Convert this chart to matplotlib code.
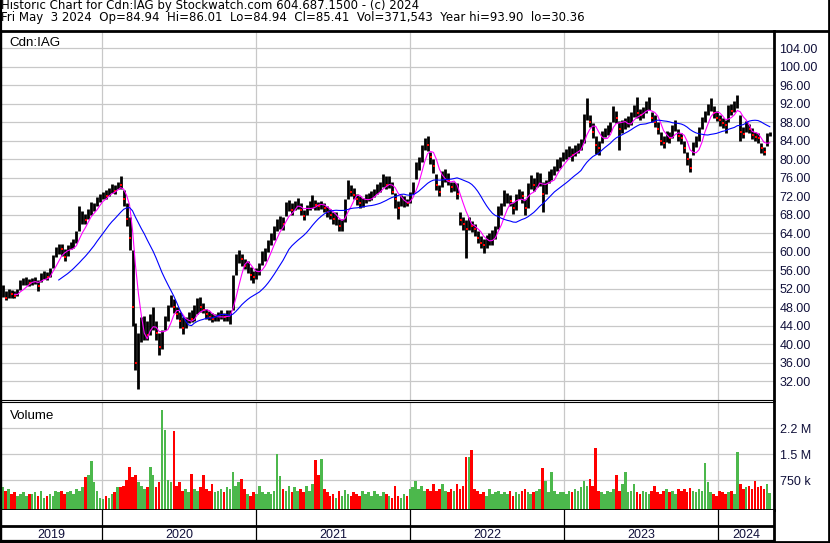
import matplotlib
matplotlib.use("Agg")
import matplotlib.pyplot as plt
import matplotlib.dates as mdates
from matplotlib.lines import Line2D
import numpy as np
import pandas as pd

plt.rcParams['font.family'] = ['Liberation Sans', 'DejaVu Sans']

# ---------------- data (weekly) ----------------
start_week = '2019-05-10'
n_weeks = 261

close = [
    51.5, 50.0, 51.3, 50.8, 50.5, 51.2, 53.0, 53.5, 53.6, 53.3,
    53.6, 53.8, 52.6, 54.8, 55.0, 54.6, 55.6, 58.5, 60.2, 60.8,
    60.5, 58.8, 60.8, 61.5, 62.0, 63.6, 66.0, 67.5, 66.8, 68.2,
    69.5, 69.8, 71.2, 71.6, 72.4, 72.0, 73.0, 73.8, 73.2, 74.8,
    74.5, 71.5, 67.0, 63.0, 48.0, 36.0, 41.0, 43.0, 44.0, 42.0,
    44.5, 45.5, 42.5, 39.5, 41.5, 45.0, 47.5, 49.5, 48.0, 46.5,
    45.0, 43.5, 45.0, 46.0, 45.5, 47.0, 48.5, 48.0, 47.5, 46.5,
    46.0, 45.4, 45.8, 46.0, 46.5, 45.8, 46.0, 46.2, 53.5, 58.0,
    59.0, 58.5, 57.0, 57.0, 55.0, 54.5, 55.5, 56.5, 59.0, 59.5,
    61.5, 63.0, 64.5, 66.0, 66.5, 66.0, 69.5, 70.2, 69.0, 70.2,
    70.5, 69.0, 67.8, 69.5, 70.0, 70.8, 70.2, 70.0, 70.2, 69.5,
    68.5, 68.0, 67.0, 67.4, 65.5, 66.0, 70.0, 74.0, 73.0, 72.2,
    71.5, 70.5, 70.6, 71.8, 72.0, 72.2, 72.8, 73.5, 74.2, 75.5,
    74.5, 75.0, 73.0, 71.5, 69.5, 71.0, 71.0, 70.5, 71.8, 74.0,
    78.0, 79.5, 82.0, 83.5, 83.0, 80.5, 78.5, 74.5, 73.0, 76.5,
    76.5, 75.5, 74.0, 74.0, 72.5, 66.8, 66.0, 65.0, 66.5, 65.5,
    65.0, 63.0, 62.0, 61.5, 62.5, 62.8, 63.5, 64.8, 68.8, 69.0,
    71.5, 71.5, 71.0, 69.5, 71.5, 72.8, 72.0, 69.5, 73.5, 75.0,
    74.5, 75.5, 75.8, 72.5, 74.5, 76.2, 77.0, 77.5, 78.8, 79.5,
    80.5, 81.0, 81.5, 81.0, 82.0, 82.5, 83.2, 88.5, 90.2, 88.0,
    86.0, 83.0, 82.5, 85.0, 85.8, 86.4, 87.0, 90.5, 89.0, 86.5,
    87.0, 87.8, 88.2, 88.8, 90.6, 90.0, 89.5, 90.2, 91.5, 92.0,
    89.0, 88.0, 86.5, 84.0, 83.5, 85.0, 84.5, 86.5, 87.5, 85.0,
    84.5, 82.5, 80.0, 78.2, 82.5, 83.8, 85.8, 88.0, 89.2, 91.0,
    91.8, 90.0, 89.0, 88.5, 87.8, 87.5, 90.8, 90.5, 91.5, 92.5,
    86.0, 85.5, 87.0, 86.5, 85.2, 84.8, 84.5, 82.5, 81.5, 84.0, 85.41,
]

high = [
    52.8, 51.5, 52.0, 51.8, 51.5, 52.0, 53.8, 54.3, 54.5, 54.2,
    54.3, 54.6, 53.8, 55.4, 55.8, 55.6, 56.5, 59.4, 61.0, 61.6,
    61.6, 60.5, 61.5, 62.2, 62.8, 64.5, 70.0, 68.8, 68.2, 69.2,
    70.8, 70.6, 71.8, 72.4, 73.0, 73.4, 73.8, 74.6, 74.4, 75.0,
    76.3, 73.4, 70.5, 67.6, 60.4, 44.5, 42.5, 46.0, 46.2, 45.0,
    46.5, 48.0, 45.0, 42.5, 43.0, 46.2, 48.5, 50.6, 49.8, 48.0,
    47.0, 46.0, 46.0, 47.0, 47.4, 48.4, 50.0, 50.3, 49.0, 47.6,
    47.2, 46.8, 46.6, 47.0, 47.5, 46.8, 47.4, 47.5, 55.0, 59.5,
    60.4, 59.5, 58.5, 58.0, 56.8, 55.8, 56.4, 57.5, 60.2, 60.8,
    62.5, 64.0, 65.5, 67.0, 67.8, 67.5, 70.8, 71.2, 70.6, 71.0,
    71.6, 70.5, 69.0, 70.2, 71.0, 72.2, 71.2, 70.8, 71.0, 70.6,
    69.8, 69.2, 68.6, 68.5, 67.0, 67.0, 71.5, 75.5, 74.5, 73.8,
    72.5, 72.0, 71.6, 72.6, 72.8, 73.2, 73.6, 74.6, 75.2, 76.8,
    76.4, 76.4, 75.0, 72.8, 71.0, 72.2, 72.0, 71.5, 73.0, 75.2,
    79.4, 80.6, 83.0, 84.5, 85.0, 81.6, 80.0, 76.8, 74.5, 77.5,
    78.0, 77.0, 75.0, 75.0, 74.8, 68.5, 67.5, 66.8, 67.6, 66.6,
    66.0, 64.5, 63.5, 62.8, 63.6, 64.0, 64.8, 65.5, 70.0, 70.6,
    73.4, 72.8, 72.2, 70.8, 72.6, 73.6, 73.2, 71.5, 74.8, 76.6,
    76.0, 77.2, 77.0, 75.0, 75.5, 77.5, 78.0, 78.5, 80.0, 80.5,
    81.6, 82.2, 82.8, 82.4, 83.2, 83.6, 84.4, 89.8, 93.2, 89.5,
    87.8, 85.0, 84.0, 86.2, 86.8, 87.5, 88.0, 91.6, 90.5, 88.2,
    88.6, 89.0, 89.4, 90.2, 91.8, 93.4, 90.8, 91.4, 92.6, 93.4,
    90.2, 89.5, 88.0, 86.0, 85.0, 86.2, 85.8, 87.4, 88.6, 86.5,
    85.6, 84.0, 81.5, 80.2, 83.8, 85.0, 87.0, 89.2, 90.4, 92.0,
    93.2, 91.6, 90.4, 89.5, 89.0, 88.6, 91.8, 92.0, 92.6, 93.9,
    89.5, 87.0, 88.2, 87.6, 86.8, 85.8, 85.6, 83.6, 82.6, 85.6, 86.01,
]

low = [
    50.3, 49.6, 50.0, 50.0, 50.0, 50.5, 51.8, 52.8, 52.8, 52.6,
    52.8, 53.0, 51.6, 53.5, 54.2, 54.0, 54.6, 56.5, 58.8, 59.6,
    59.0, 58.0, 59.2, 60.6, 60.8, 62.0, 64.5, 66.0, 66.0, 67.0,
    68.0, 68.8, 69.8, 70.8, 71.4, 71.4, 72.0, 72.8, 72.4, 73.6,
    73.6, 69.8, 65.5, 60.4, 44.0, 34.5, 30.4, 40.5, 41.0, 41.0,
    42.0, 43.0, 41.0, 37.6, 39.0, 43.0, 45.0, 48.0, 46.8, 45.5,
    43.5, 42.3, 43.5, 44.6, 44.8, 45.0, 46.5, 47.0, 46.8, 45.5,
    45.2, 44.8, 45.0, 45.0, 45.5, 45.0, 45.0, 44.4, 47.5, 55.0,
    57.6, 57.0, 56.2, 55.5, 54.0, 53.2, 54.2, 55.0, 57.2, 58.0,
    60.0, 61.5, 62.5, 64.5, 65.0, 64.8, 67.8, 68.8, 68.0, 69.0,
    69.2, 68.0, 66.8, 68.0, 69.0, 69.5, 69.0, 69.0, 69.3, 68.5,
    67.5, 67.0, 66.0, 65.8, 64.5, 64.4, 66.5, 71.5, 72.0, 71.4,
    70.2, 69.5, 69.6, 70.6, 71.0, 71.2, 71.8, 72.5, 73.0, 74.0,
    73.6, 73.8, 72.5, 69.5, 67.2, 69.8, 69.6, 69.8, 70.6, 72.5,
    75.8, 77.6, 79.5, 82.0, 81.8, 79.0, 77.0, 73.4, 72.0, 74.0,
    75.0, 74.5, 73.0, 73.2, 71.5, 65.8, 64.8, 58.7, 64.8, 64.3,
    63.5, 62.0, 60.8, 59.7, 60.8, 61.5, 61.5, 62.8, 65.0, 68.0,
    70.0, 70.5, 70.0, 68.2, 69.0, 71.5, 70.5, 68.0, 69.5, 73.5,
    73.2, 74.0, 74.2, 68.5, 72.5, 74.8, 75.5, 76.5, 77.5, 78.2,
    79.6, 80.0, 80.5, 79.6, 80.8, 81.4, 82.0, 83.5, 88.5, 87.0,
    84.5, 81.2, 81.0, 83.5, 84.8, 85.2, 85.8, 88.0, 87.8, 82.0,
    85.6, 86.5, 87.0, 87.5, 89.2, 89.0, 88.6, 89.0, 90.0, 90.6,
    88.0, 87.0, 85.5, 83.0, 82.4, 83.8, 83.6, 84.6, 86.2, 84.0,
    83.4, 81.4, 78.8, 77.2, 81.0, 82.6, 84.0, 86.5, 88.0, 89.6,
    90.4, 89.0, 88.2, 87.2, 86.8, 85.6, 88.0, 89.5, 90.2, 91.0,
    84.0, 84.5, 86.0, 85.6, 84.4, 84.0, 83.6, 81.4, 80.9, 82.8, 84.94,
]

volume_m = [
    0.55, 0.45, 0.5, 0.35, 0.4, 0.3, 0.35, 0.4, 0.3, 0.35,
    0.35, 0.4, 0.3, 0.45, 0.25, 0.3, 0.35, 0.3, 0.45, 0.4,
    0.45, 0.35, 0.4, 0.45, 0.35, 0.5, 0.45, 0.55, 0.85, 0.9,
    1.3, 0.7, 0.45, 0.25, 0.2, 0.3, 0.25, 0.35, 0.4, 0.55,
    0.55, 0.6, 0.75, 1.14, 0.85, 0.9, 0.7, 0.6, 0.5, 0.55,
    1.14, 0.9, 0.55, 0.7, 2.78, 2.2, 0.75, 0.7, 2.17, 0.6,
    0.7, 0.45, 0.5, 0.4, 0.92, 0.5, 0.45, 0.55, 0.9, 0.5,
    0.45, 0.63, 0.4, 0.45, 0.5, 0.4, 0.55, 0.5, 0.98, 0.6,
    0.7, 0.8, 0.5, 0.35, 0.3, 0.4, 0.35, 0.6, 0.4, 0.35,
    0.4, 0.35, 0.45, 1.5, 0.88, 0.5, 0.45, 0.6, 0.4, 0.55,
    0.45, 0.5, 0.4, 0.6, 0.45, 0.65, 1.33, 0.9, 1.36, 0.5,
    0.4, 0.3, 0.35, 0.25, 0.45, 0.3, 0.47, 0.35, 0.3, 0.4,
    0.35, 0.3, 0.45, 0.35, 0.4, 0.3, 0.45, 0.35, 0.3, 0.4,
    0.35, 0.3, 0.25, 0.6, 0.3, 0.25, 0.35, 0.3, 0.5, 0.55,
    0.73, 0.5, 0.6, 0.45, 0.5, 0.45, 0.64, 0.45, 0.5, 0.64,
    0.45, 0.4, 0.5, 0.45, 0.64, 0.5, 0.6, 1.43, 1.43, 1.62,
    0.5, 0.45, 0.35, 0.4, 0.3, 0.5, 0.35, 0.4, 0.45, 0.35,
    0.4, 0.35, 0.45, 0.3, 0.4, 0.35, 0.45, 0.5, 0.4, 0.35,
    0.4, 0.45, 0.5, 1.11, 0.73, 0.4, 1.0, 0.45, 0.35, 0.4,
    0.4, 0.35, 0.45, 0.4, 0.5, 0.45, 0.55, 0.73, 0.6, 0.79,
    0.6, 1.69, 0.45, 0.4, 0.35, 0.45, 0.4, 0.5, 0.9, 0.45,
    0.63, 0.99, 0.4, 0.45, 0.63, 0.4, 0.35, 0.45, 0.4, 0.35,
    0.45, 0.6, 0.4, 0.35, 0.45, 0.5, 0.4, 0.45, 0.35, 0.5,
    0.45, 0.5, 0.4, 0.52, 0.45, 0.4, 0.5, 0.45, 1.24, 0.7,
    0.4, 0.35, 0.3, 0.45, 0.4, 0.35, 0.4, 0.45, 0.35, 1.56,
    0.63, 0.5, 0.55, 0.6, 0.5, 0.73, 0.55, 0.6, 0.5, 0.63, 0.37,
]

price_ticks = list(range(32, 105, 4))
vol_ticks = [0.75, 1.5, 2.25]
vol_tick_labels = ['750 k', '1.5 M', '2.2 M']
years = [2019, 2020, 2021, 2022, 2023, 2024]

title_line1 = 'Historic Chart for Cdn:IAG by Stockwatch.com 604.687.1500 - (c) 2024'
title_line2 = ('Fri May  3 2024  Op=84.94  Hi=86.01  Lo=84.94  Cl=85.41  '
               'Vol=371,543  Year hi=93.90  lo=30.36')

# ---------------- figure layout (pixel based) ----------------
W, H = 830, 543
fig = plt.figure(figsize=(W / 100, H / 100), dpi=100)
fig.patch.set_facecolor('white')


def rect(l, t, r, b):
    return [l / W, 1 - b / H, (r - l) / W, (b - t) / H]


dates = pd.date_range(start_week, periods=n_weeks, freq='7D')
x = mdates.date2num(dates)
x0 = mdates.date2num(pd.Timestamp('2019-05-06'))
x1 = mdates.date2num(pd.Timestamp('2024-05-13'))
year_bounds = [mdates.date2num(pd.Timestamp(f'{y}-01-01')) for y in years[1:]]

c = np.array(close)
hi = np.array(high)
lo = np.array(low)
vol = np.array(volume_m)
ma_fast = pd.Series(c).rolling(5).mean().values
ma_slow = pd.Series(c).rolling(20).mean().values

GRID = '#c8c8c8'
LBL = '#10103a'

# ---- price panel
ax = fig.add_axes(rect(1, 31, 774, 400))
ax.set_xlim(x0, x1)
ax.set_ylim(27.96, 107.74)
for yv in price_ticks:
    ax.axhline(yv, color=GRID, lw=0.9, zorder=0)
for xb in year_bounds:
    ax.axvline(xb, color=GRID, lw=0.9, zorder=0)
ax.vlines(x, lo, hi, color='black', lw=2.0, zorder=2)
down = np.r_[False, c[1:] < c[:-1]]
ax.plot(x[down] + 1.5, c[down], 's', color='red', ms=1.5, mew=0, zorder=3)
ax.plot(x, ma_fast, color='#ff00ff', lw=0.8, zorder=4)
ax.plot(x, ma_slow, color='#0000ff', lw=0.8, zorder=4)
ax.set_xticks([])
ax.yaxis.tick_right()
ax.set_yticks(price_ticks)
ax.set_yticklabels([f'{v:.2f}' for v in price_ticks], fontsize=9, color=LBL)
ax.tick_params(axis='y', length=0, pad=4)
ax.spines['bottom'].set_linewidth(0.8)
ax.spines['left'].set_linewidth(1.6)
ax.spines['right'].set_linewidth(2.0)
ax.spines['top'].set_visible(False)
ax.text(0.011, 0.985, 'Cdn:IAG', transform=ax.transAxes, fontsize=9.6,
        va='top', ha='left')

# ---- volume panel
vmin, vmax = -0.0923, 3.009
av = fig.add_axes(rect(1, 402, 774, 509.5))
av.set_xlim(x0, x1)
av.set_ylim(vmin, vmax)
for yv in vol_ticks:
    av.axhline(yv, color=GRID, lw=0.9, zorder=0)
for xb in year_bounds:
    av.axvline(xb, color=GRID, lw=0.9, zorder=0)
vcol = np.where(down, '#ff0000', '#4cb84c')
av.bar(x, vol - vmin, bottom=vmin, width=6.2, color=vcol, linewidth=0, zorder=2)
av.set_xticks([])
av.yaxis.tick_right()
av.set_yticks(vol_ticks)
av.set_yticklabels(vol_tick_labels, fontsize=9, color=LBL)
av.tick_params(axis='y', length=0, pad=4)
av.spines['left'].set_linewidth(1.6)
av.spines['right'].set_linewidth(2.0)
av.spines['top'].set_linewidth(0.8)
av.spines['bottom'].set_linewidth(2.0)
av.text(0.011, 0.93, 'Volume', transform=av.transAxes, fontsize=9.6,
        va='top', ha='left')

# ---- year band
ay = fig.add_axes(rect(1, 509.5, 774, 541))
ay.set_xlim(x0, x1)
ay.set_ylim(0, 1)
ay.set_xticks([])
ay.set_yticks([])
for s in ['left', 'bottom']:
    ay.spines[s].set_linewidth(1.6)
ay.spines['right'].set_linewidth(2.0)
ay.spines['top'].set_visible(False)
ay.axhline(15 / 31.5, color='black', lw=2.0)
for xb in year_bounds:
    ay.axvline(xb, color='black', lw=0.9)
edges = [x0] + year_bounds + [x1]
for i, yr in enumerate(years):
    ay.text((edges[i] + edges[i + 1]) / 2, 0.2, str(yr), ha='center',
            va='center', fontsize=9, color=LBL)

# ---- header and frame
fig.text(1 / W, 1 - 6 / H, title_line1, fontsize=8.45, va='center', ha='left',
         family='DejaVu Sans')
fig.text(1 / W, 1 - 18 / H, title_line2, fontsize=8.45, va='center', ha='left',
         family='DejaVu Sans')
fig.add_artist(Line2D([0, 1], [1 - 30.5 / H] * 2, color='black', lw=2.0,
                      transform=fig.transFigure))
fig.add_artist(Line2D([828.5 / W] * 2, [0, 1], color='black', lw=2.0,
                      transform=fig.transFigure))
fig.add_artist(Line2D([0, 1], [1 - 541.5 / H] * 2, color='black', lw=2.0,
                      transform=fig.transFigure))
fig.add_artist(Line2D([0.6 / W] * 2, [0, 1], color='black', lw=1.6,
                      transform=fig.transFigure))

fig.savefig('out.png', dpi=100, facecolor='white')
